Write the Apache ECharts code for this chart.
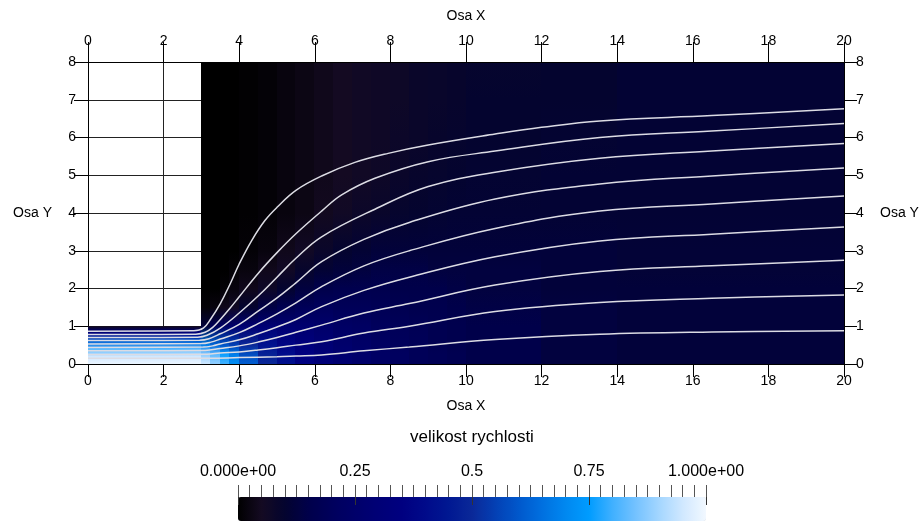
<!DOCTYPE html>
<html>
<head>
    <meta charset="utf-8" />
    <title>velikost rychlosti</title>
    <style>
        html, body { margin: 0; padding: 0; background: #fff; }
        #divChart { width: 924px; height: 523px; }
    </style>
</head>
<body>
    <div id="divChart"></div>
    <script src="https://cdn.jsdelivr.net/npm/echarts@6/dist/echarts.min.js"></script>
    <script>
        var fontFam = '"Liberation Sans", Arial, sans-serif';

        // colour map 0..1, evenly spaced stops (black - navy - blue - white)
        var colorMap = ['#000000', '#140a22', '#04042f', '#00004a', '#00005c', '#00006a', '#000076', '#000080',
            '#000a8a', '#001892', '#0a2898', '#0440b4', '#0058cc', '#0070e0', '#0088f0', '#009cff',
            '#40b0ff', '#74c2ff', '#a4d6ff', '#d0e8ff', '#f2f8ff'];

        // inlet channel x 0..3, y 0..1 (velocity profile)
        var inletY = [0, 0.2, 0.4, 0.6, 0.8, 0.9, 1];
        var inletV = [0.99, 0.95, 0.82, 0.62, 0.36, 0.2, 0.04];

        // downstream field: column edges in x, profile nodes in y, values per column
        var fieldX = [3, 3.25, 3.5, 3.75, 4, 4.5, 5, 5.5, 6, 6.5, 7, 7.5, 8, 8.5, 9, 9.5, 10, 12, 14, 20];
        var fieldY = [0, 0.25, 0.5, 1, 1.5, 2, 2.5, 3, 4, 5, 6, 7, 8];
        var fieldV = [
            [0.95, 0.88, 0.68, 0.12, 0.01, 0, 0, 0, 0, 0, 0, 0, 0],
            [0.88, 0.83, 0.63, 0.18, 0.02, 0, 0, 0, 0, 0, 0, 0, 0],
            [0.8, 0.76, 0.59, 0.23, 0.04, 0.01, 0, 0, 0, 0, 0, 0, 0],
            [0.71, 0.68, 0.55, 0.26, 0.06, 0.02, 0.01, 0, 0, 0, 0, 0, 0],
            [0.61, 0.58, 0.5, 0.28, 0.1, 0.04, 0.02, 0.01, 0.005, 0.005, 0.005, 0.005, 0.005],
            [0.5, 0.48, 0.43, 0.29, 0.14, 0.07, 0.04, 0.02, 0.01, 0.01, 0.01, 0.01, 0.01],
            [0.42, 0.41, 0.37, 0.28, 0.17, 0.1, 0.06, 0.04, 0.02, 0.02, 0.02, 0.02, 0.02],
            [0.36, 0.35, 0.33, 0.27, 0.19, 0.13, 0.09, 0.06, 0.03, 0.03, 0.03, 0.03, 0.03],
            [0.31, 0.3, 0.29, 0.25, 0.2, 0.15, 0.11, 0.08, 0.045, 0.04, 0.04, 0.04, 0.04],
            [0.28, 0.27, 0.26, 0.23, 0.19, 0.16, 0.12, 0.1, 0.06, 0.05, 0.05, 0.05, 0.05],
            [0.25, 0.25, 0.24, 0.22, 0.19, 0.16, 0.13, 0.11, 0.075, 0.06, 0.06, 0.06, 0.06],
            [0.23, 0.23, 0.22, 0.2, 0.18, 0.16, 0.14, 0.12, 0.085, 0.07, 0.065, 0.065, 0.065],
            [0.21, 0.21, 0.2, 0.19, 0.17, 0.15, 0.14, 0.12, 0.095, 0.08, 0.075, 0.07, 0.07],
            [0.19, 0.19, 0.19, 0.18, 0.16, 0.15, 0.14, 0.12, 0.1, 0.09, 0.08, 0.08, 0.08],
            [0.18, 0.18, 0.17, 0.17, 0.16, 0.15, 0.13, 0.12, 0.105, 0.095, 0.09, 0.085, 0.085],
            [0.17, 0.17, 0.16, 0.16, 0.15, 0.14, 0.13, 0.12, 0.11, 0.1, 0.095, 0.09, 0.09],
            [0.15, 0.15, 0.15, 0.15, 0.14, 0.13, 0.13, 0.12, 0.11, 0.105, 0.1, 0.1, 0.095],
            [0.13, 0.13, 0.13, 0.13, 0.13, 0.12, 0.12, 0.12, 0.11, 0.11, 0.105, 0.1, 0.1],
            [0.12, 0.12, 0.12, 0.12, 0.12, 0.12, 0.115, 0.115, 0.11, 0.11, 0.11, 0.11, 0.11]
        ];

        // streamlines [x, y]
        var line1 = [[0, 0.87], [2.8, 0.88], [3.05, 0.95], [3.25, 1.2], [3.5, 1.6], [3.75, 2.1], [4, 2.65], [4.33, 3.27], [4.68, 3.8], [5, 4.15], [5.5, 4.6], [6.18, 4.98], [7.06, 5.34], [7.94, 5.58], [9, 5.8], [10.77, 6.09], [12, 6.27], [13.54, 6.44], [16.5, 6.58], [20, 6.76]];
        var line2 = [[0, 0.78], [2.85, 0.79], [3.1, 0.84], [3.3, 0.97], [3.5, 1.18], [3.75, 1.47], [4, 1.78], [4.5, 2.4], [5, 2.95], [5.5, 3.45], [6.18, 4.05], [6.71, 4.48], [7.59, 4.92], [9, 5.36], [10.77, 5.64], [13.54, 6.0], [16.5, 6.17], [20, 6.37]];
        var line3 = [[0, 0.7], [2.9, 0.71], [3.15, 0.76], [3.5, 0.95], [4, 1.35], [4.5, 1.8], [5, 2.3], [5.5, 2.8], [6.18, 3.37], [7.59, 4.1], [9, 4.7], [10.77, 5.08], [13.54, 5.45], [16.5, 5.64], [20, 5.84]];
        var line4 = [[0, 0.62], [2.95, 0.63], [3.2, 0.67], [3.5, 0.8], [4, 1.05], [4.5, 1.4], [5, 1.75], [5.5, 2.15], [6.18, 2.71], [7.3, 3.3], [8.5, 3.75], [10.77, 4.37], [13.54, 4.77], [16.5, 4.98], [20, 5.19]];
        var line5 = [[0, 0.53], [3.0, 0.54], [3.25, 0.58], [3.5, 0.66], [4, 0.83], [4.5, 1.07], [5, 1.33], [5.5, 1.62], [6.18, 2.05], [7.3, 2.6], [8.5, 3.0], [10.77, 3.59], [13.54, 4.05], [16.5, 4.24], [20, 4.45]];
        var line6 = [[0, 0.44], [3.05, 0.45], [3.3, 0.48], [3.5, 0.53], [4, 0.64], [4.5, 0.8], [5, 0.98], [5.5, 1.18], [6.18, 1.52], [7.3, 1.95], [8.5, 2.3], [10.77, 2.84], [13.54, 3.26], [16.5, 3.44], [20, 3.63]];
        var line7 = [[0, 0.35], [3.1, 0.36], [3.5, 0.41], [4, 0.48], [4.5, 0.58], [5, 0.7], [5.5, 0.84], [6.18, 1.03], [7.3, 1.35], [8.5, 1.6], [10.77, 2.09], [13.54, 2.45], [16.5, 2.6], [20, 2.75]];
        var line8 = [[0, 0.25], [3.15, 0.26], [3.5, 0.29], [4, 0.32], [4.5, 0.37], [5, 0.43], [5.5, 0.5], [6.18, 0.59], [7.3, 0.82], [8.5, 1.0], [10.77, 1.39], [13.54, 1.63], [16.5, 1.74], [20, 1.83]];
        var line9 = [[0, 0.15], [3.2, 0.15], [4, 0.17], [5, 0.19], [5.5, 0.21], [6.18, 0.24], [7.3, 0.35], [8.5, 0.45], [10.77, 0.65], [13.54, 0.79], [16.5, 0.85], [20, 0.88]];
        var streamLines = [line1, line2, line3, line4, line5, line6, line7, line8, line9];

        var barTicks = { 0: '0.000e+00', 1: '1.000e+00' };

        // one column of the field: rect with a vertical gradient through the profile values
        function columnRect(x0, x1, ys, vs, api) {
            var yTop = ys[ys.length - 1], yBot = ys[0];
            var p0 = api.coord([x0, yTop]), p1 = api.coord([x1, yBot]);
            var stops = [];
            for (var k = ys.length - 1; k >= 0; k--) {
                stops.push({ offset: (yTop - ys[k]) / (yTop - yBot), color: echarts.color.lerp(vs[k], colorMap) });
            }
            var left = Math.floor(p0[0]);
            return {
                type: 'rect',
                shape: { x: left, y: p0[1], width: Math.ceil(p1[0]) - left + 1, height: p1[1] - p0[1] },
                style: { fill: new echarts.graphic.LinearGradient(0, 0, 0, 1, stops) }
            };
        }

        var axisText = { color: '#000', fontSize: 14, fontFamily: fontFam };

        var series = [
            {
                type: 'custom', xAxisIndex: 0, yAxisIndex: 0, silent: true, z: 1,
                data: [[0, 3]],
                renderItem: function (params, api) {
                    return columnRect(0, 3, inletY, inletV, api);
                }
            },
            {
                type: 'custom', xAxisIndex: 0, yAxisIndex: 0, silent: true, z: 1,
                data: fieldV.map(function (row, i) { return [fieldX[i], i]; }),
                renderItem: function (params, api) {
                    var i = params.dataIndex;
                    return columnRect(fieldX[i], fieldX[i + 1], fieldY, fieldV[i], api);
                }
            }
        ];
        streamLines.forEach(function (pts) {
            series.push({
                type: 'line', xAxisIndex: 0, yAxisIndex: 0, data: pts, silent: true, z: 3,
                showSymbol: false, smooth: 0.4,
                lineStyle: { color: '#dcdce4', width: 1.5 }
            });
        });

        var myChart = echarts.init(document.getElementById('divChart'));
        var option = {
            animation: false,
            backgroundColor: '#fff',
            textStyle: { fontFamily: fontFam },
            grid: [
                { left: 88, right: 80, top: 62, bottom: 159 },
                { left: 238, width: 468, top: 497, height: 8 }
            ],
            xAxis: [
                {
                    type: 'value', gridIndex: 0, position: 'bottom', min: 0, max: 20, interval: 2,
                    name: 'Osa X', nameLocation: 'middle', nameGap: 35, nameTextStyle: axisText,
                    axisLine: { onZero: false, lineStyle: { color: '#000' } },
                    axisTick: { length: 13, lineStyle: { color: '#000' } },
                    axisLabel: { margin: 10, color: '#000', fontSize: 14, fontFamily: fontFam },
                    splitLine: { show: true, lineStyle: { color: '#222' } }
                },
                {
                    type: 'value', gridIndex: 0, position: 'top', min: 0, max: 20, interval: 2, z: 5,
                    name: 'Osa X', nameLocation: 'middle', nameGap: 39, nameTextStyle: axisText,
                    axisLine: { onZero: false, lineStyle: { color: '#000' } },
                    axisTick: { length: 20, lineStyle: { color: '#000' } },
                    axisLabel: { margin: 14, color: '#000', fontSize: 14, fontFamily: fontFam },
                    splitLine: { show: false }
                },
                {
                    type: 'value', gridIndex: 1, position: 'top', min: 0, max: 1, interval: 0.25, z: 10,
                    name: 'velikost rychlosti', nameLocation: 'middle', nameGap: 51,
                    nameTextStyle: { color: '#000', fontSize: 17, fontFamily: fontFam },
                    axisLine: { show: false, onZero: false },
                    axisTick: { length: 12, lineStyle: { color: '#555' } },
                    minorTick: { show: true, splitNumber: 10, length: 12, lineStyle: { color: '#555' } },
                    splitLine: { show: true, lineStyle: { color: '#333' } },
                    axisLabel: {
                        margin: 17, color: '#000', fontSize: 16, fontFamily: fontFam,
                        showMinLabel: true, showMaxLabel: true,
                        formatter: function (v) { return barTicks[v] || String(v); }
                    }
                }
            ],
            yAxis: [
                {
                    type: 'value', gridIndex: 0, position: 'left', min: 0, max: 8, interval: 1,
                    name: 'Osa Y', nameLocation: 'middle', nameRotate: 0, nameGap: 36, nameTextStyle: axisText,
                    axisLine: { onZero: false, lineStyle: { color: '#000' } },
                    axisTick: { length: 14, lineStyle: { color: '#000' } },
                    axisLabel: { margin: 12, color: '#000', fontSize: 14, fontFamily: fontFam },
                    splitLine: { show: true, lineStyle: { color: '#222' } }
                },
                {
                    type: 'value', gridIndex: 0, position: 'right', min: 0, max: 8, interval: 1, z: 5,
                    name: 'Osa Y', nameLocation: 'middle', nameRotate: 0, nameGap: 36, nameTextStyle: axisText,
                    axisLine: { onZero: false, lineStyle: { color: '#000' } },
                    axisTick: { length: 13, lineStyle: { color: '#000' } },
                    axisLabel: { margin: 12, color: '#000', fontSize: 14, fontFamily: fontFam },
                    splitLine: { show: false }
                },
                { type: 'value', gridIndex: 1, min: 0, max: 1, show: false }
            ],
            visualMap: {
                type: 'continuous', min: 0, max: 1, orient: 'horizontal',
                left: 238, top: 497, itemWidth: 24, itemHeight: 468, padding: 0,
                calculable: false, hoverLink: false, seriesIndex: 1, dimension: 1,
                inRange: { color: colorMap }
            },
            series: series
        };
        myChart.setOption(option);
    </script>
</body>
</html>
